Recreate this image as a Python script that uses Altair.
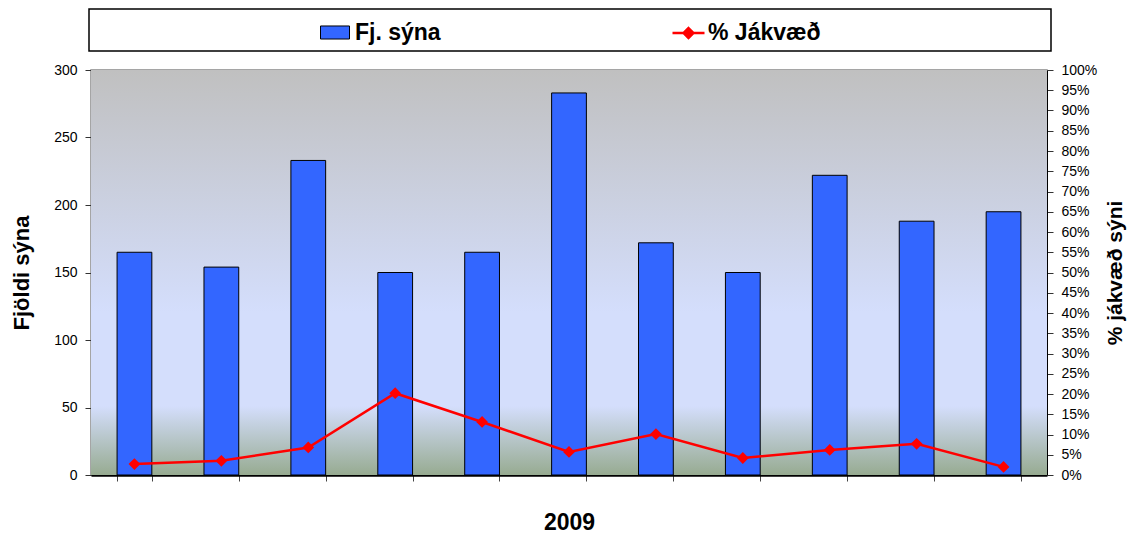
import altair as alt
import pandas as pd

months = ["1", "2", "3", "4", "5", "6", "7", "8", "9", "10", "11"]
samples = [165, 154, 233, 150, 165, 283, 172, 150, 222, 188, 195]
positive_pct = [0.027, 0.035, 0.068, 0.202, 0.131, 0.057, 0.101, 0.042, 0.062, 0.077, 0.020]
bar_label = "Fj. sýna"
line_label = "% Jákvæð"

W, H = 956, 405
df = pd.DataFrame({"month": months, "samples": samples, "pct": positive_pct,
                   "s1": [bar_label] * len(months), "s2": [line_label] * len(months)})

x_enc = alt.X("month:N", sort=months, scale=alt.Scale(paddingInner=0.6, paddingOuter=0.3),
              axis=alt.Axis(labels=False, title="2009", tickBand="extent", tickSize=6,
                            domainWidth=2.5, domainColor="black", tickColor="#444",
                            titleFontSize=23, titleFontWeight="bold", titlePadding=30,
                            grid=False))

bg = alt.Chart(pd.DataFrame({"a": [0]})).mark_rect(
    fill=alt.Gradient(gradient="linear", x1=0, x2=0, y1=0, y2=1,
                      stops=[alt.GradientStop(offset=0, color="#c0c0c0"),
                             alt.GradientStop(offset=0.6, color="#d4defc"),
                             alt.GradientStop(offset=0.83, color="#d4defc"),
                             alt.GradientStop(offset=1, color="#97ab91")])
).encode(x=alt.value(0), x2=alt.value(W), y=alt.value(0), y2=alt.value(H))

box = alt.Chart(pd.DataFrame({"a": [0]})).mark_rect(
    fill="white", stroke="black", strokeWidth=1.5
).encode(x=alt.value(-2), x2=alt.value(960), y=alt.value(-61), y2=alt.value(-19))

bars = alt.Chart(df).mark_bar(stroke="black", strokeWidth=1).encode(
    x=x_enc,
    y=alt.Y("samples:Q", scale=alt.Scale(domain=[0, 300]),
            axis=alt.Axis(values=list(range(0, 301, 50)), title="Fjöldi sýna", grid=False,
                          orient="left", tickSize=6, domainColor="black", tickColor="#333",
                          titleFontSize=22, titleFontWeight="bold", titlePadding=20,
                          labelFontSize=14, labelPadding=8)),
    fill=alt.Fill("s1:N", scale=alt.Scale(range=["#3366ff"]),
                  legend=alt.Legend(title=None, orient="none", legendX=229, legendY=-52.5,
                                    symbolType="M-1,-0.45H1V0.45H-1Z", symbolSize=841,
                                    symbolStrokeColor="black", symbolStrokeWidth=1,
                                    labelFontSize=23, labelFontWeight="bold", labelOffset=5,
                                    padding=0)),
)

line = alt.Chart(df).mark_line(
    strokeWidth=2.5,
    point=alt.OverlayMarkDef(shape="diamond", size=80, filled=True, color="#ff0000"),
).encode(
    x=alt.X("month:N", sort=months),
    y=alt.Y("pct:Q", scale=alt.Scale(domain=[0, 1]),
            axis=alt.Axis(values=[i / 20 for i in range(21)], format=".0%", orient="right",
                          title="% jákvæð sýni", titleAngle=270,
                          grid=False, tickSize=6,
                          domainColor="black", tickColor="#333", titleFontSize=21,
                          titleFontWeight="bold", titlePadding=29, labelFontSize=14,
                          labelPadding=8)),
    stroke=alt.Stroke("s2:N", scale=alt.Scale(range=["#ff0000"]),
                      legend=alt.Legend(title=None, orient="none", legendX=580, legendY=-54.5,
                                        symbolType="M-1,0H1M0,-0.31L0.31,0L0,0.31L-0.31,0Z",
                                        symbolSize=1024, symbolStrokeWidth=2.5,
                                        symbolFillColor="#ff0000",
                                        labelFontSize=23, labelFontWeight="bold",
                                        labelOffset=2, padding=0)),
)

chart = alt.layer(bg, box, bars, line).resolve_scale(y="independent").properties(
    width=W, height=H, autosize=alt.AutoSizeParams(type="none"),
    padding={"left": 83, "top": 62, "right": 81, "bottom": 61},
).configure(font="Liberation Sans").configure_view(stroke="#888888", strokeWidth=1.5).configure_axis(
    labelColor="black", titleColor="black", labelFont="Liberation Sans", titleFont="Liberation Sans"
).configure_legend(labelColor="black")

chart.save("out.html", embed_options={"renderer": "svg", "actions": False})
